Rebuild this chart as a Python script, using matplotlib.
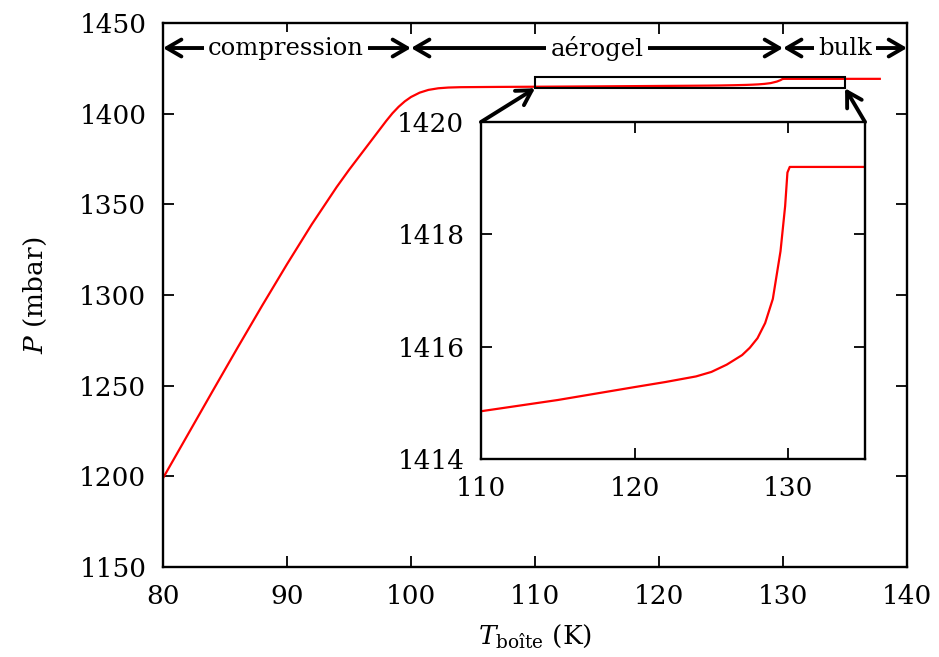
import matplotlib
matplotlib.use("Agg")
import matplotlib.pyplot as plt
from matplotlib.patches import Rectangle

plt.rcParams["font.family"] = "DejaVu Serif"
plt.rcParams["mathtext.fontset"] = "dejavuserif"
plt.rcParams["font.size"] = 19

# pression dans la cellule en fonction de la temperature de la boite
T_boite = [80, 82, 84, 86, 88, 90, 92, 94, 95, 96, 97, 98, 98.5, 99, 99.5, 100, 100.7,
           101.4, 102.2, 103, 104, 107, 110, 115, 120, 122, 124, 125, 126, 127, 127.5,
           128, 128.5, 129, 129.5, 129.8, 129.95, 130.1, 132, 135, 137.8]
P_mbar = [1199, 1223, 1247, 1270.8, 1294.2, 1317, 1339, 1359.5, 1369, 1378, 1387, 1396,
          1400.2, 1403.8, 1406.8, 1409.2, 1411.6, 1413.1, 1414, 1414.4, 1414.6, 1414.75,
          1414.85, 1415.05, 1415.28, 1415.37, 1415.47, 1415.55, 1415.68, 1415.85,
          1415.98, 1416.15, 1416.42, 1416.85, 1417.7, 1418.5, 1419.1, 1419.2, 1419.2,
          1419.2, 1419.2]

# regions: (debut, fin, nom, position du texte)
regions = [(80, 100, "compression", 89.9), (100, 130, "aérogel", 115), (130, 140, "bulk", 135)]

fig = plt.figure(figsize=(9.39, 6.57), dpi=100)
ax = fig.add_axes([0.1736, 0.137, 0.7924, 0.828])

ax.plot(T_boite, P_mbar, color="red", lw=1.6)
ax.set_xlim(80, 140)
ax.set_ylim(1150, 1450)
ax.set_xticks(range(80, 141, 10))
ax.set_yticks(range(1150, 1451, 50))
ax.tick_params(direction="in", top=True, right=True, length=8, width=1.3, pad=12)
for s in ax.spines.values():
    s.set_linewidth(1.7)
ax.set_xlabel(r"$T_{\mathrm{boîte}}$ (K)", labelpad=10)
ax.set_ylabel(r"$P$ (mbar)", labelpad=22)

# fleches des regions
y_fl = 1436.2
for t0, t1, nom, xt in regions:
    ax.annotate("", xy=(t1, y_fl), xytext=(t0, y_fl),
                arrowprops=dict(arrowstyle="<->,head_length=0.55,head_width=0.32", lw=2.8,
                                color="black", shrinkA=0, shrinkB=0),
                annotation_clip=False)
    ax.text(xt, y_fl, nom, ha="center", va="center", fontsize=17.5,
            bbox=dict(facecolor="white", edgecolor="none", pad=3))

# rectangle de zoom
ax.add_patch(Rectangle((110, 1414), 25, 6, fill=False, edgecolor="black", lw=1.5, zorder=3))

# encart
ins = fig.add_axes([0.5122, 0.3014, 0.409, 0.5129])
ins.plot(T_boite, P_mbar, color="red", lw=1.6)
ins.set_xlim(110, 135)
ins.set_ylim(1414, 1420)
ins.set_xticks([110, 120, 130])
ins.set_yticks([1414, 1416, 1418, 1420])
ins.tick_params(direction="in", top=True, right=True, length=8, width=1.3, pad=12)
for s in ins.spines.values():
    s.set_linewidth(1.7)

# fleches vers le rectangle
for coin, cible in [((0.5122, 0.8143), (110, 1414)), ((0.9212, 0.8143), (135, 1414))]:
    ax.annotate("", xy=cible, xycoords="data", xytext=coin, textcoords="figure fraction",
                arrowprops=dict(arrowstyle="->,head_length=0.55,head_width=0.32", lw=2.8,
                                color="black", shrinkA=0, shrinkB=0),
                annotation_clip=False)

fig.savefig("out.png", dpi=100)
